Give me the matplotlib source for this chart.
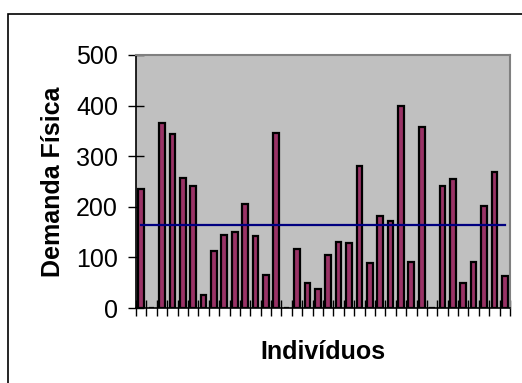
import matplotlib
matplotlib.use("Agg")
import matplotlib.pyplot as plt
import numpy as np
from matplotlib.patches import Rectangle

# Data
individuals = list(range(1, 37))
demanda = [235, 0, 365, 343, 256, 241, 26, 113, 145, 151, 205, 143, 66, 346,
           0, 116, 49, 38, 105, 131, 128, 280, 89, 181, 172, 400, 91, 357,
           0, 241, 254, 49, 91, 202, 268, 63]
media = [164] * len(individuals)
yticks = [0, 100, 200, 300, 400, 500]

plt.rcParams['font.family'] = ['Liberation Sans', 'DejaVu Sans']

W, H = 522, 383
fig = plt.figure(figsize=(W / 100, H / 100), dpi=100)
fig.patch.set_facecolor('white')

# Outer chart frame (only top and left visible)
fig.add_artist(Rectangle((7.5 / W, -0.1), 1.2, 1 - 13.5 / H + 0.1,
                         transform=fig.transFigure, fill=False,
                         edgecolor='black', linewidth=1.2))

ax = fig.add_axes([136 / W, 1 - 308 / H, (510 - 136) / W, (308 - 55) / H])
ax.set_facecolor('#C0C0C0')

x = np.arange(len(individuals))
ax.bar(x, demanda, width=0.55, color='#993366', edgecolor='black',
       linewidth=1.6, zorder=2)
ax.plot(x, media, color='#000080', linewidth=1.6, zorder=3)

ax.set_xlim(-0.5, len(individuals) - 0.5)
ax.set_ylim(0, 500)
ax.set_yticks(yticks)
ax.set_yticklabels([str(v) for v in yticks], fontsize=18)
ax.set_xticks(np.arange(len(individuals) + 1) - 0.5)
ax.set_xticklabels([])

ax.tick_params(axis='y', direction='inout', length=12, width=1.0,
               color='black', pad=7)
ax.tick_params(axis='x', direction='inout', length=11, width=1.0,
               color='black')

for s in ['top', 'right']:
    ax.spines[s].set_color('#808080')
    ax.spines[s].set_linewidth(1.5)
for s in ['left', 'bottom']:
    ax.spines[s].set_color('black')
    ax.spines[s].set_linewidth(1.2)

ax.set_xlabel('Indivíduos', fontsize=18, fontweight='bold', labelpad=14)
ax.set_ylabel('Demanda Física', fontsize=18, fontweight='bold', labelpad=8)

fig.savefig('out.png', dpi=100)
